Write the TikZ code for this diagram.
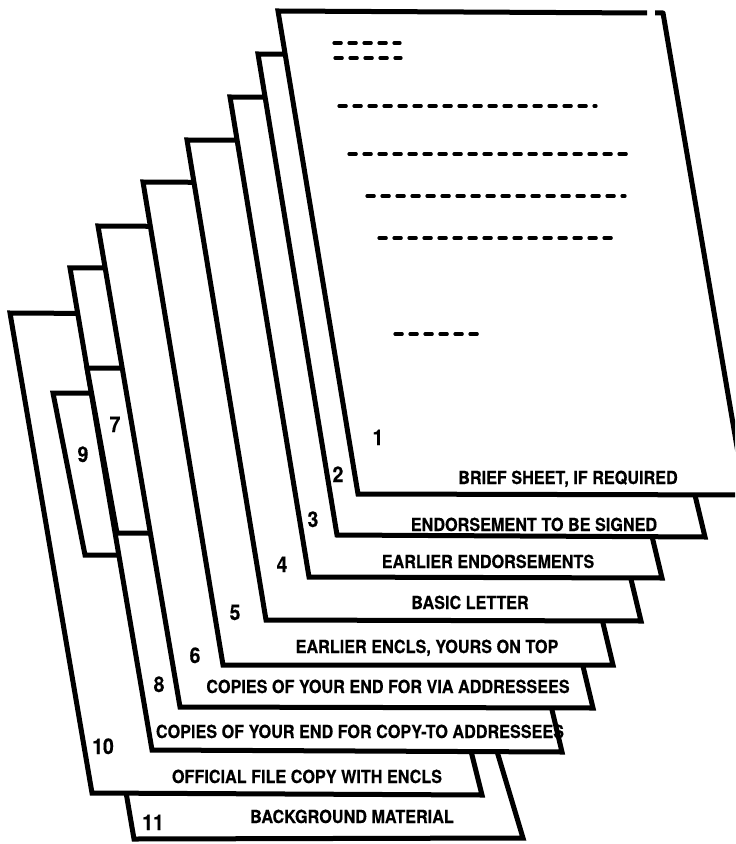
\documentclass[tikz,border=0pt]{standalone}
\usepackage{fontspec}
\newfontfamily\hv[FakeStretch=0.9, FakeBold=0.4]{TeX Gyre Heros}
\begin{document}
\begin{tikzpicture}[x=0.5pt,y=-0.5pt, line width=2.5pt,
  sheet/.style={fill=white, draw=black, line join=miter},
  lbl/.style={font=\hv\bfseries\fontsize{9}{10}\selectfont, inner sep=0pt, anchor=base},
  num/.style={font=\hv\bfseries\fontsize{10.8}{12}\selectfont, inner sep=0pt, anchor=base},
  dashline/.style={line width=1.6pt, line cap=round, dash pattern=on 3.6pt off 3.9pt}]
\useasboundingbox (0,0) rectangle (735,844);
\clip (0,0) rectangle (735,844);
% sheets, back to front
\draw[sheet] (52,359) -- (379,358) -- (523,838) -- (134,839) -- cycle;   % 11
\draw[sheet] (10,313) -- (362,315) -- (482,795) -- (92,793) -- cycle;    % 10
\draw[sheet] (53,393) -- (200,393) -- (230,555) -- (85,555) -- cycle;    % 9
\draw[sheet] (70,268) -- (447,268) -- (562,752) -- (152,750) -- cycle;   % 8
\draw[sheet] (87,368) -- (200,368) -- (230,533) -- (117,533) -- cycle;   % 7
\draw[sheet] (98,226) -- (478,228) -- (593,708) -- (180,707) -- cycle;   % 6
\draw[sheet] (143,182) -- (498,184) -- (613,665) -- (223,665) -- cycle;  % 5
\draw[sheet] (187,140) -- (526,141) -- (641,621) -- (266,620) -- cycle;  % 4
\draw[sheet] (230,97) -- (547,98) -- (662,578) -- (309,577) -- cycle;    % 3
\draw[sheet] (258,54) -- (590,57) -- (705,537) -- (337,535) -- cycle;    % 2
% sheet 1
\fill[white] (278,11) -- (663,13) -- (745,494) -- (358,494) -- cycle;
\draw[line join=miter] (647,13) -- (278,11) -- (358,494) -- (760,495);
\draw[line join=round] (655,13) -- (663,13) -- (745,494);
% letter text lines on sheet 1
\draw[dashline] (334,43) -- (400,43);
\draw[dashline] (335,58) -- (401,58);
\draw[dashline] (339,106) -- (596,106);
\draw[dashline] (349,154) -- (628,154);
\draw[dashline] (367,196) -- (625,196);
\draw[dashline] (379,238) -- (616,238);
\draw[dashline] (395,334) -- (480,334);
% numbers
\node[num] (n1) at (378,445) {1};
\node[num] (n2) at (338,482) {2};
\node[num] (n3) at (313,527) {3};
\node[num] (n4) at (282,572) {4};
\node[num] (n5) at (235,620) {5};
\node[num] (n6) at (195,663) {6};
\node[num] (n7) at (115,432) {7};
\node[num] (n8) at (159,692) {8};
\node[num] (n9) at (83,462) {9};
\node[num] (n10) at (103,754) {10};
\node[num] (n11) at (153,830) {11};
% labels
\node[lbl] (t1) at (568,484) {BRIEF SHEET, IF REQUIRED};
\node[lbl] (t2) at (534,531) {ENDORSEMENT TO BE SIGNED};
\node[lbl] (t3) at (488,568) {EARLIER ENDORSEMENTS};
\node[lbl] (t4) at (470,609) {BASIC LETTER};
\node[lbl] (t5) at (427,653) {EARLIER ENCLS, YOURS ON TOP};
\node[lbl] (t6) at (388,693) {COPIES OF YOUR END FOR VIA ADDRESSEES};
\node[lbl] (t8) at (360,738) {COPIES OF YOUR END FOR COPY-TO ADDRESSEES};
\node[lbl] (t10) at (307,783) {OFFICIAL FILE COPY WITH ENCLS};
\node[lbl] (t11) at (352,823) {BACKGROUND MATERIAL};
\end{tikzpicture}
\end{document}
